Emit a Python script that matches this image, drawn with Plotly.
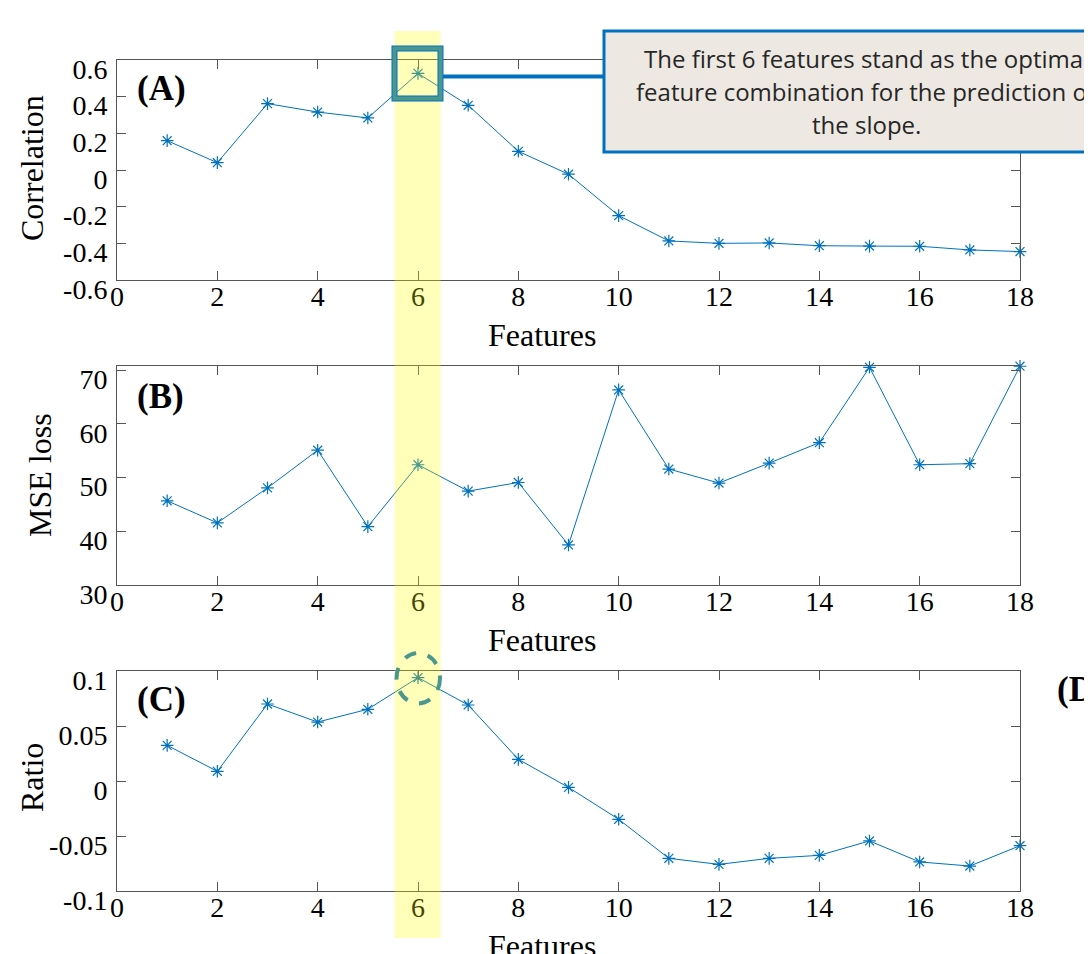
import plotly.graph_objects as go

# ---------------- data ----------------
features = list(range(1, 19))
correlation = [0.16, 0.04, 0.362, 0.316, 0.284, 0.527, 0.353, 0.102, -0.023,
               -0.249, -0.387, -0.400, -0.398, -0.413, -0.415, -0.416, -0.436, -0.445]
mse_loss = [45.7, 41.6, 48.1, 55.1, 40.9, 52.4, 47.5, 49.1, 37.5,
            66.3, 51.6, 49.0, 52.7, 56.5, 70.5, 52.4, 52.6, 70.7]
ratio = [0.0324, 0.0088, 0.070, 0.0536, 0.0652, 0.094, 0.0691, 0.0197, -0.0058,
         -0.0348, -0.0703, -0.0758, -0.0703, -0.0676, -0.0545, -0.0736, -0.0773, -0.0588]

x_ticks = list(range(0, 19, 2))
corr_ticks = [-0.6, -0.4, -0.2, 0, 0.2, 0.4, 0.6]
corr_ticktext = ["-0.6", "-0.4", "-0.2", "0", "0.2", "0.4", "0.6"]
mse_ticks = [30, 40, 50, 60, 70]
ratio_ticks = [-0.1, -0.05, 0, 0.05, 0.1]
ratio_ticktext = ["-0.1", "-0.05", "0", "0.05", "0.1"]

note_lines = ["The first 6 features stand as the optimal",
              "feature combination for the prediction of",
              "the slope."]

# ---------------- layout helpers ----------------
W, H = 1092, 954
OFF = 8  # page body margin
def px(x):
    return (x - OFF) / W
def py(y):
    return 1 - (y - OFF) / H

BLUE = "#0072BD"
SERIF = "Liberation Serif, Times New Roman, serif"
AXC = "#555555"

fig = go.Figure()

series = [(correlation, "x", "y"), (mse_loss, "x2", "y2"), (ratio, "x3", "y3")]
for vals, xa, ya in series:
    fig.add_trace(go.Scatter(
        x=features, y=vals, xaxis=xa, yaxis=ya, mode="lines+markers",
        line=dict(color=BLUE, width=1),
        marker=dict(symbol="asterisk-open", size=10.5, color=BLUE,
                    line=dict(color=BLUE, width=1.2)),
        cliponaxis=False, showlegend=False))

xdom = [px(117), px(1020)]
panels = [
    (60, 280, [-0.6, 0.6], corr_ticks, corr_ticktext),
    (365.7, 585.3, [30, 70.8], mse_ticks, [str(v) for v in mse_ticks]),
    (671, 891, [-0.1, 0.1], ratio_ticks, ratio_ticktext),
]
axis_common = dict(showline=True, linecolor=AXC, linewidth=1, mirror="ticks",
                   ticks="inside", ticklen=9, tickcolor=AXC, tickwidth=1,
                   showgrid=False, zeroline=False, automargin=False,
                   tickfont=dict(family=SERIF, size=28, color="#000000"))
for i, (top, bot, yr, tv, tt) in enumerate(panels, start=1):
    sfx = "" if i == 1 else str(i)
    fig.update_layout(**{
        f"xaxis{sfx}": dict(domain=xdom, range=[0, 18], tickvals=x_ticks,
                            anchor=f"y{sfx}", ticklabelstandoff=-9, **axis_common),
        f"yaxis{sfx}": dict(domain=[py(bot), py(top)], range=yr, tickvals=tv,
                            ticktext=tt, anchor=f"x{sfx}", ticklabelshift=9,
                            ticklabelstandoff=3, **axis_common),
    })

shapes = []
# yellow highlight band across all panels
shapes.append(dict(type="rect", xref="paper", yref="paper",
                   x0=px(394.6), x1=px(440.7), y0=py(938), y1=py(31),
                   fillcolor="rgba(255,255,0,0.27)", line=dict(width=0), layer="above"))
# callout box
shapes.append(dict(type="rect", xref="paper", yref="paper",
                   x0=px(604), x1=px(1150), y0=py(152), y1=py(31),
                   fillcolor="#EDE8E2", line=dict(color="#0070C0", width=3), layer="above"))
# connector line
shapes.append(dict(type="line", xref="paper", yref="paper",
                   x0=px(442), x1=px(604), y0=py(76.5), y1=py(76.5),
                   line=dict(color="#0070C0", width=4), layer="above"))
# square around the peak in (A)
shapes.append(dict(type="rect", xref="paper", yref="paper",
                   x0=px(394.5), x1=px(440.5), y0=py(98.5), y1=py(48.5),
                   line=dict(color="#0070C0", width=6), layer="above"))
shapes.append(dict(type="rect", xref="paper", yref="paper",
                   x0=px(394.5), x1=px(440.5), y0=py(98.5), y1=py(48.5),
                   line=dict(color="#4A978F", width=4), layer="above"))
# dashed circle in (C)
shapes.append(dict(type="circle", xref="paper", yref="paper",
                   x0=px(396.5), x1=px(440), y0=py(703.5), y1=py(653),
                   line=dict(color="#4A978F", width=4, dash="dash"), layer="above"))

annotations = []
for txt, yy in zip(note_lines, [58, 91, 124]):
    annotations.append(dict(text=txt, xref="paper", yref="paper", x=px(866), y=py(yy),
                            xanchor="center", yanchor="middle", showarrow=False,
                            font=dict(family="Open Sans, sans-serif", size=24, color="#262626")))
# axis titles
for txt, xx, yy, rot in [("Correlation", 32, 168, -90), ("MSE loss", 40, 475, -90),
                         ("Ratio", 32, 778, -90)]:
    annotations.append(dict(text=txt, xref="paper", yref="paper", x=px(xx), y=py(yy),
                            xanchor="center", yanchor="middle", textangle=rot, showarrow=False,
                            font=dict(family=SERIF, size=32, color="#000000")))
for yy in [335, 640, 946]:
    annotations.append(dict(text="Features", xref="paper", yref="paper", x=px(542), y=py(yy),
                            xanchor="center", yanchor="middle", showarrow=False,
                            font=dict(family=SERIF, size=32, color="#000000")))
# panel labels
for txt, xx, yy in [("(A)", 135, 89), ("(B)", 135, 397), ("(C)", 135, 699), ("(D", 1055, 689)]:
    annotations.append(dict(text=f"<b>{txt}</b>", xref="paper", yref="paper", x=px(xx), y=py(yy),
                            xanchor="left", yanchor="middle", showarrow=False,
                            font=dict(family=SERIF, size=35, color="#000000")))

fig.update_layout(width=W, height=H, margin=dict(l=0, r=0, t=0, b=0),
                  paper_bgcolor="white", plot_bgcolor="white",
                  shapes=shapes, annotations=annotations)

fig.write_html("out.html")
